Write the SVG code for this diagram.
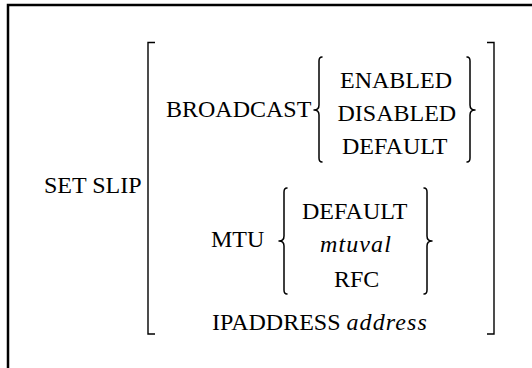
<svg xmlns="http://www.w3.org/2000/svg" width="532" height="368" viewBox="0 0 532 368">
  <style>
    .t text { font-family: "Liberation Serif", "Times New Roman", serif; font-size: 24px; fill: #000; }
    .it { font-style: italic; letter-spacing: 1.1px; }
    .frame { fill: none; stroke: #000; stroke-width: 2.5; }
    .bracket { fill: none; stroke: #000; stroke-width: 1.4; }
    .brace { fill: none; stroke: #000; stroke-width: 1.5; stroke-linejoin: round; stroke-linecap: round; }
  </style>
  <rect width="532" height="368" fill="#fff"/>

  <!-- page frame (top and left edges only) -->
  <path class="frame" d="M8,368 V5 H532"/>

  <g class="t">
    <!-- command name -->
    <g id="set-slip">
      <text x="44" y="193">SET SLIP</text>
    </g>

    <!-- optional-argument bracket -->
    <g id="options-bracket">
      <path class="bracket" d="M155,42.5 H148 V334 H155"/>
      <path class="bracket" d="M487,42.5 H494 V334 H487"/>
    </g>

    <!-- BROADCAST choice -->
    <g id="broadcast">
      <text x="166" y="117">BROADCAST</text>
      <path class="brace" d="M322,57 Q319,57 319,61 L319,105 Q319,110 314,110 Q319,110 319,115 L319,158 Q319,162 322,162"/>
      <text x="340" y="88">ENABLED</text>
      <text x="337.5" y="121">DISABLED</text>
      <text x="342" y="154">DEFAULT</text>
      <path class="brace" d="M467,57 Q470,57 470,61 L470,105 Q470,110 475,110 Q470,110 470,115 L470,158 Q470,162 467,162"/>
    </g>

    <!-- MTU choice -->
    <g id="mtu">
      <text x="211" y="247">MTU</text>
      <path class="brace" d="M287,188 Q284,188 284,192 L284,236 Q284,241 279,241 Q284,241 284,246 L284,290 Q284,294 287,294"/>
      <text x="302" y="219">DEFAULT</text>
      <text class="it" x="320" y="252">mtuval</text>
      <text x="334" y="287">RFC</text>
      <path class="brace" d="M424,188 Q427,188 427,192 L427,236 Q427,241 432,241 Q427,241 427,246 L427,290 Q427,294 424,294"/>
    </g>

    <!-- IPADDRESS argument -->
    <g id="ipaddress">
      <text x="212" y="330">IPADDRESS <tspan class="it">address</tspan></text>
    </g>
  </g>
</svg>
